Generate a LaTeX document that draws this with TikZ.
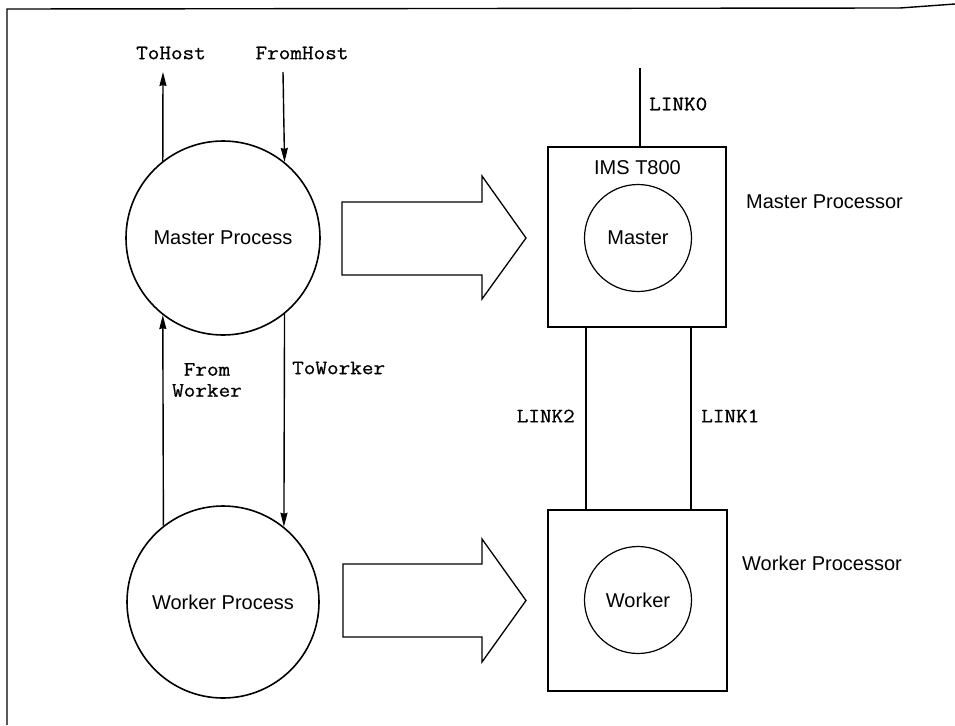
\documentclass[tikz,border=0pt]{standalone}
\usepackage{fontspec}
\setmainfont{Liberation Sans}
\setmonofont[FakeStretch=1.1,FakeBold=0.8]{Latin Modern Mono}
\usetikzlibrary{arrows.meta}
\begin{document}
\begin{tikzpicture}[x=1pt,y=-1pt,
  ln/.style={line width=1.4pt},
  arr/.style={line width=1.4pt,-{Stealth[length=14pt,width=7pt,inset=1pt]}},
  proc/.style={circle,draw,line width=1.6pt,inner sep=0pt},
  inproc/.style={circle,draw,line width=1.2pt,inner sep=0pt,minimum size=107pt},
  chip/.style={rectangle,draw,line width=1.5pt,inner sep=0pt},
  mono/.style={font=\ttfamily\fontsize{20.5}{21}\selectfont,inner sep=0pt},
  sans/.style={font=\fontsize{20}{24}\selectfont,inner sep=0pt},
  blockarrow/.style={draw,line width=1.3pt,line join=miter}
]
\useasboundingbox (0,0) rectangle (955,725);
% frame
\draw[line width=1.4pt] (7,725) -- (7,9) -- (900,8) -- (955,4);

% processes
\node[proc,minimum size=194pt] (mp) at (223,238) {};
\node[sans] (mpt) at (223,238) {Master Process};
\node[proc,minimum size=192pt] (wp) at (223,602) {};
\node[sans] (wpt) at (223,602) {Worker Process};

% host channels
\coordinate (th) at (163,72);
\coordinate (fh) at (283,72);
\draw[arr] (mp.128.3) -- (th);
\draw[arr] (fh) -- (mp.51.7);
\node[mono] (tht) at (171,53) {ToHost};
\node[mono] (fht) at (302,53) {FromHost};

% worker channels
\draw[arr] (mp.-51.7) -- (wp.51.3);
\draw[arr] (wp.128.7) -- (mp.-128.3);
\node[mono,align=center] (fwt) at (207,380) {From\\Worker};
\node[mono,anchor=west] (twt) at (292,368) {ToWorker};

% block arrows
\draw[blockarrow] (342,202) -- (482,202) -- (482,176) -- (526,238) -- (482,299) -- (482,275) -- (342,275) -- cycle;
\draw[blockarrow] (343,564) -- (482,564) -- (482,539) -- (526,600.5) -- (482,662) -- (482,637) -- (343,637) -- cycle;

% processors
\node[chip,minimum width=178pt,minimum height=180pt] (mbox) at (637,237) {};
\node[chip,minimum width=179pt,minimum height=181pt] (wbox) at (637.5,600.5) {};
\node[sans] (ims) at (637.5,168) {IMS T800};
\node[inproc] (mc) at (638,238) {};
\node[sans] (mct) at (638,238) {Master};
\node[inproc] (wc) at (638,600) {};
\node[sans] (wct) at (638,600) {Worker};
\node[sans,anchor=west] (mpl) at (746,202) {Master Processor};
\node[sans,anchor=west] (wpl) at (742,563) {Worker Processor};

% links
\coordinate (l0) at (640,68);
\draw[ln] (l0) -- (l0 |- mbox.north);
\node[mono,anchor=west] (l0t) at (649,104) {LINK0};
\draw[ln] ([xshift=-51pt]mbox.south) -- ([xshift=-51.5pt]wbox.north);
\draw[ln] ([xshift=54pt]mbox.south) -- ([xshift=53.5pt]wbox.north);
\node[mono,anchor=east] (l2t) at (575,416) {LINK2};
\node[mono,anchor=west] (l1t) at (701,416) {LINK1};
\end{tikzpicture}
\end{document}
